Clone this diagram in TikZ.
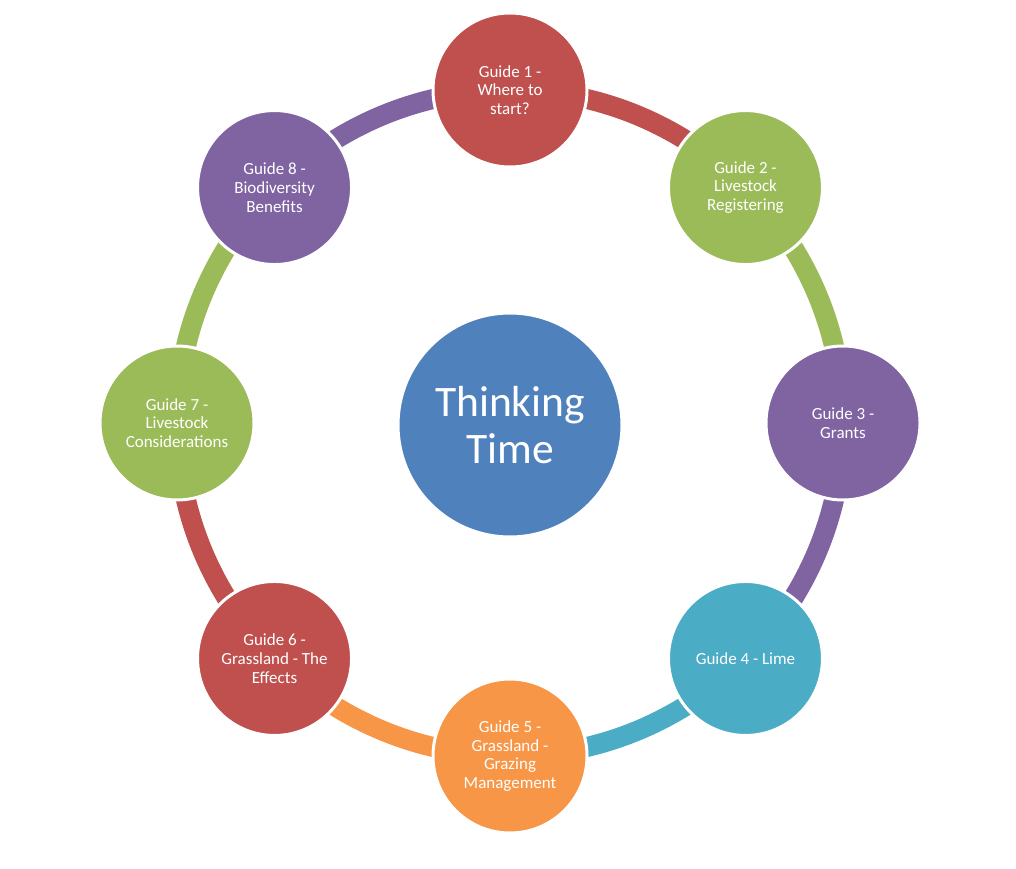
\documentclass[tikz,border=0pt]{standalone}
\usepackage{fontspec}
\setmainfont{Carlito}
\usetikzlibrary{backgrounds}
\definecolor{cred}{HTML}{C0504D}
\definecolor{cgreen}{HTML}{9BBB59}
\definecolor{cpurple}{HTML}{8064A2}
\definecolor{cteal}{HTML}{4BACC6}
\definecolor{corange}{HTML}{F79646}
\definecolor{cblue}{HTML}{4F81BD}
\tikzset{
  guide/.style={circle, minimum size=154pt, inner sep=0pt, draw=white, line width=3pt,
    text=white, align=center, font=\fontsize{17}{18.8}\selectfont},
  hub/.style={circle, minimum size=224pt, inner sep=0pt, draw=white, line width=3pt,
    fill=cblue, text=white, align=center, font=\fontsize{43.5}{47}\selectfont},
  ring/.style={line width=20pt}
}
\begin{document}
\begin{tikzpicture}[x=1pt,y=1pt]
\useasboundingbox (0,0) rectangle (1016,868);
\node[hub] (hub) at (510,443) {Thinking\\Time};
\begin{scope}[shift={(510,445)}]
\node[guide, fill=cred]    (g1) at (90:333)   {Guide 1 -\\Where to\\start?};
\node[guide, fill=cgreen]  (g2) at (45:333)   {Guide 2 -\\Livestock\\Registering};
\node[guide, fill=cpurple] (g3) at (0:333)    {Guide 3 -\\Grants};
\node[guide, fill=cteal]   (g4) at (-45:333)  {Guide 4 - Lime};
\node[guide, fill=corange] (g5) at (-90:333)  {Guide 5 -\\Grassland -\\Grazing\\Management};
\node[guide, fill=cred]    (g6) at (-135:333) {Guide 6 -\\Grassland - The\\Effects};
\node[guide, fill=cgreen]  (g7) at (180:333)  {Guide 7 -\\Livestock\\Considerations};
\node[guide, fill=cpurple] (g8) at (135:333)  {Guide 8 -\\Biodiversity\\Benefits};
\end{scope}
\begin{scope}[on background layer]
\draw[ring, cred]    (g1.center) arc[start angle=90,   end angle=45,   radius=333];
\draw[ring, cgreen]  (g2.center) arc[start angle=45,   end angle=0,    radius=333];
\draw[ring, cpurple] (g3.center) arc[start angle=0,    end angle=-45,  radius=333];
\draw[ring, cteal]   (g4.center) arc[start angle=-45,  end angle=-90,  radius=333];
\draw[ring, corange] (g5.center) arc[start angle=-90,  end angle=-135, radius=333];
\draw[ring, cred]    (g6.center) arc[start angle=-135, end angle=-180, radius=333];
\draw[ring, cgreen]  (g7.center) arc[start angle=180,  end angle=135,  radius=333];
\draw[ring, cpurple] (g8.center) arc[start angle=135,  end angle=90,   radius=333];
\end{scope}
\end{tikzpicture}
\end{document}
